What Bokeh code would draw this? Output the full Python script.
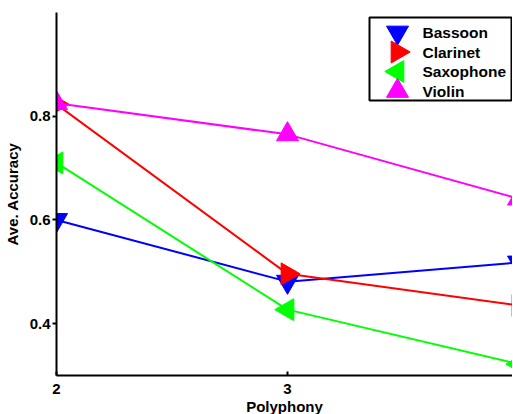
import math
from bokeh.plotting import figure
from bokeh.models import Range1d, FixedTicker, ColumnDataSource
from bokeh.core.properties import value
from bokeh.embed import file_html
from bokeh.resources import INLINE

# ---- data ----
polyphony = [2, 3, 4]
bassoon = [0.600, 0.481, 0.518]
clarinet = [0.823, 0.496, 0.435]
saxophone = [0.710, 0.427, 0.322]
violin = [0.825, 0.765, 0.641]
series_names = ["Bassoon", "Clarinet", "Saxophone", "Violin"]
series_values = [bassoon, clarinet, saxophone, violin]
series_colors = ["#0000ff", "#ff0000", "#00ff00", "#ff00ff"]
series_markers = ["inverted_triangle", "triangle", "triangle", "triangle"]
series_angles = [0.0, -math.pi / 2, math.pi / 2, 0.0]
x_ticks = [2, 3, 4]
y_ticks = [0.4, 0.6, 0.8]

FONT = "Liberation Sans"
FW, FH = 456, 363

p = figure(frame_width=FW, frame_height=FH,
           x_range=Range1d(2, 3.974), y_range=Range1d(0.3, 1.0),
           output_backend="svg", toolbar_location=None,
           min_border_left=49, min_border_top=12, min_border_right=0,
           min_border_bottom=0, background_fill_color="white",
           border_fill_color="white")
p.outline_line_color = None
p.xgrid.visible = False
p.ygrid.visible = False

for ax in (p.xaxis[0], p.yaxis[0]):
    ax.axis_line_width = 2
    ax.axis_line_color = "black"
    ax.major_tick_line_width = 2
    ax.major_tick_line_color = "black"
    ax.minor_tick_line_color = None
    ax.major_label_text_font = FONT
    ax.major_label_text_font_style = "bold"
    ax.major_label_text_font_size = "15px"
    ax.major_label_text_color = "black"
    ax.axis_label_text_font = FONT
    ax.axis_label_text_font_style = "bold"
    ax.axis_label_text_font_size = "15px"
    ax.axis_label_text_color = "black"

p.xaxis.ticker = FixedTicker(ticks=x_ticks)
p.yaxis.ticker = FixedTicker(ticks=y_ticks)
p.xaxis.major_tick_in = 4
p.xaxis.major_tick_out = 0
p.yaxis.major_tick_in = 0
p.yaxis.major_tick_out = 4
p.xaxis.major_label_standoff = 8
p.yaxis.major_label_standoff = 2
p.xaxis.axis_label = "Polyphony"
p.yaxis.axis_label = "Ave. Accuracy"
p.xaxis.axis_label_standoff = 1
p.yaxis.axis_label_standoff = 6

for name, vals, col, mk, ang in zip(series_names, series_values, series_colors,
                                    series_markers, series_angles):
    p.line(polyphony, vals, line_color=col, line_width=2)
    p.scatter(polyphony, vals, marker=mk, angle=ang, size=22,
              fill_color=col, line_color=col)

# ---- legend (drawn in frame pixel space) ----
p.extra_x_ranges = {"px": Range1d(0, FW)}
p.extra_y_ranges = {"py": Range1d(0, FH)}
leg_left, leg_right, leg_top, leg_bottom = 313, 455, 5, 88
row0, row_h = 20, 19.5
mk_x, txt_x = 341, 366
rows_y = [FH - (row0 + i * row_h) for i in range(len(series_names))]

p.quad(left=[leg_left], right=[leg_right], top=[FH - leg_top],
       bottom=[FH - leg_bottom], fill_color="white", line_color="black",
       line_width=2, x_range_name="px", y_range_name="py")
leg_src = ColumnDataSource(dict(x=[mk_x] * len(series_names), y=rows_y,
                                tx=[txt_x] * len(series_names),
                                name=series_names, color=series_colors,
                                marker=series_markers, angle=series_angles))
p.scatter(x="x", y="y", marker="marker", angle="angle", size=22,
          fill_color="color", line_color="color", source=leg_src,
          x_range_name="px", y_range_name="py")
p.text(x="tx", y="y", text="name", source=leg_src, text_font=value(FONT),
       text_font_style="bold", text_font_size="15.5px", text_baseline="middle",
       text_color="black", x_range_name="px", y_range_name="py")

open("out.html", "w").write(file_html(p, INLINE))
